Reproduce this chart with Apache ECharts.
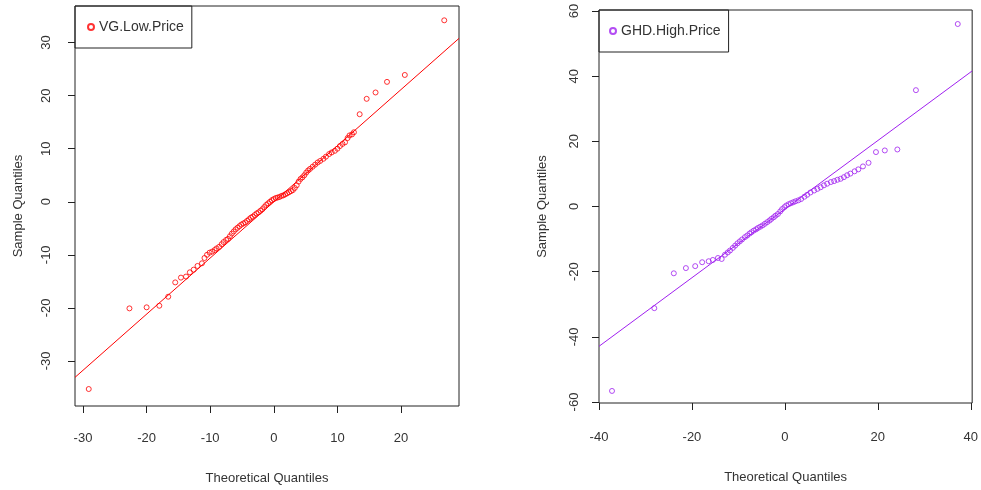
<!DOCTYPE html>
<html>
<head>
<meta charset="utf-8">
<script src="https://cdn.jsdelivr.net/npm/echarts@6/dist/echarts.min.js"></script>
<style>
  html, body { margin: 0; padding: 0; background: #fff; }
  #qq { width: 981px; height: 490px; }
</style>
</head>
<body>
<div id="qq"></div>
<script>
// left panel: VG.Low.Price  [theoretical, sample]
const vgLowPoints = [
    [-29.1, -35.3], [-22.7, -20.1], [-20.0, -19.9], [-18.0, -19.6], [-16.6, -17.9],
    [-15.5, -15.2], [-14.6, -14.3], [-13.8, -14.1], [-13.2, -13.3], [-12.6, -12.8],
    [-12.0, -12.1], [-11.3, -11.6], [-10.9, -10.6], [-10.5, -10.0], [-10.1, -9.6],
    [-9.7, -9.4], [-9.3, -9.1], [-9.0, -8.8], [-8.6, -8.5], [-8.2, -8.0],
    [-7.9, -7.6], [-7.5, -7.2], [-7.2, -7.0], [-6.9, -6.5], [-6.6, -6.0],
    [-6.3, -5.6], [-6.0, -5.2], [-5.7, -4.9], [-5.4, -4.6], [-5.1, -4.3],
    [-4.8, -4.1], [-4.5, -3.9], [-4.2, -3.6], [-3.9, -3.3], [-3.6, -3.0],
    [-3.3, -2.8], [-3.0, -2.5], [-2.7, -2.2], [-2.4, -2.0], [-2.1, -1.7],
    [-1.8, -1.4], [-1.5, -1.0], [-1.2, -0.6], [-0.9, -0.3], [-0.6, 0.0],
    [-0.3, 0.3], [0.0, 0.5], [0.3, 0.7], [0.6, 0.8], [0.9, 0.9],
    [1.2, 1.1], [1.5, 1.2], [1.8, 1.4], [2.1, 1.6], [2.4, 1.8],
    [2.7, 2.0], [3.0, 2.2], [3.3, 2.6], [3.6, 3.1], [3.9, 3.8],
    [4.2, 4.3], [4.5, 4.6], [4.8, 5.0], [5.1, 5.5], [5.4, 5.9],
    [5.7, 6.2], [6.1, 6.6], [6.5, 7.0], [6.9, 7.4], [7.3, 7.7],
    [7.8, 8.1], [8.2, 8.5], [8.7, 9.0], [9.1, 9.3], [9.6, 9.6],
    [10.0, 10.0], [10.4, 10.5], [10.8, 10.9], [11.2, 11.2], [11.6, 12.0],
    [11.9, 12.5], [12.3, 12.7], [12.6, 13.1], [13.5, 16.5], [14.6, 19.4],
    [16.0, 20.6], [17.8, 22.6], [20.6, 23.9], [26.8, 34.2]
];
const vgLowLine = [[-31.26, -33.1], [29.12, 30.8]];

// right panel: GHD.High.Price
const ghdHighPoints = [
    [-37.2, -56.6], [-28.1, -31.2], [-23.9, -20.5], [-21.3, -18.9], [-19.3, -18.3],
    [-17.8, -17.1], [-16.4, -16.8], [-15.5, -16.4], [-14.4, -15.8], [-13.6, -16.1],
    [-12.9, -14.8], [-12.3, -14.1], [-11.8, -13.5], [-11.2, -12.7], [-10.7, -12.0],
    [-10.2, -11.3], [-9.7, -10.7], [-9.2, -10.1], [-8.6, -9.4], [-8.1, -8.9],
    [-7.6, -8.3], [-7.2, -7.9], [-6.7, -7.4], [-6.2, -7.0], [-5.8, -6.6],
    [-5.3, -6.2], [-4.8, -5.8], [-4.3, -5.3], [-3.8, -4.8], [-3.3, -4.3],
    [-2.9, -3.8], [-2.4, -3.3], [-2.0, -2.8], [-1.5, -2.3], [-1.0, -1.5],
    [-0.6, -0.8], [-0.1, -0.2], [0.3, 0.3], [0.8, 0.7], [1.3, 1.0],
    [1.8, 1.3], [2.3, 1.6], [2.9, 1.9], [3.5, 2.3], [4.2, 3.0],
    [4.8, 3.6], [5.5, 4.3], [6.3, 4.9], [7.0, 5.4], [7.7, 5.9],
    [8.4, 6.5], [9.1, 7.0], [9.9, 7.5], [10.6, 7.8], [11.3, 8.2],
    [12.0, 8.5], [12.7, 9.0], [13.4, 9.6], [14.1, 10.1], [15.0, 10.8],
    [15.8, 11.4], [16.8, 12.3], [18.0, 13.4], [19.6, 16.7], [21.5, 17.2],
    [24.2, 17.5], [28.2, 35.7], [37.2, 56.0]
];
const ghdHighLine = [[-40.0, -42.9], [40.3, 41.6]];

const leftXTicks = [-30, -20, -10, 0, 10, 20];
const leftYTicks = [-30, -20, -10, 0, 10, 20, 30];
const rightXTicks = [-40, -20, 0, 20, 40];
const rightYTicks = [-60, -40, -20, 0, 20, 40, 60];

const FONT = 'Liberation Sans, Arial, sans-serif';
const RED = '#ff0000';
const PURPLE = '#a020f0';

function xAxisFor(gridIndex, min, max, ticks, margin, nameGap) {
    return {
        type: 'value', gridIndex: gridIndex, min: min, max: max,
        name: 'Theoretical Quantiles', nameLocation: 'middle', nameGap: nameGap,
        nameTextStyle: {fontFamily: FONT, fontSize: 13, color: '#333'},
        axisLine: {show: false, onZero: false},
        axisTick: {show: true, length: 7, customValues: ticks, lineStyle: {color: '#222'}},
        axisLabel: {customValues: ticks, margin: margin, fontFamily: FONT, fontSize: 13, color: '#333'},
        splitLine: {show: false}
    };
}

function yAxisFor(gridIndex, min, max, ticks, margin) {
    return {
        type: 'value', gridIndex: gridIndex, min: min, max: max,
        name: 'Sample Quantiles', nameLocation: 'middle', nameGap: 50,
        nameTextStyle: {fontFamily: FONT, fontSize: 13, color: '#333'},
        axisLine: {show: false, onZero: false},
        axisTick: {show: true, length: 7, customValues: ticks, lineStyle: {color: '#222'}},
        axisLabel: {customValues: ticks, rotate: 90, margin: margin, fontFamily: FONT, fontSize: 13, color: '#333'},
        splitLine: {show: false}
    };
}

function legendFor(name, left, top, pad) {
    return {
        data: [name], left: left, top: top, orient: 'vertical',
        borderColor: '#222', borderWidth: 1, padding: pad,
        itemWidth: 6, itemHeight: 6, selectedMode: false,
        textStyle: {fontFamily: FONT, fontSize: 14, color: '#333'}
    };
}

function scatterFor(name, idx, data, color) {
    return {
        name: name, type: 'scatter', xAxisIndex: idx, yAxisIndex: idx,
        data: data, symbol: 'circle', symbolSize: 5,
        itemStyle: {color: 'rgba(255,255,255,0)', borderColor: color, borderWidth: 1}
    };
}

function lineFor(idx, data, color) {
    return {
        type: 'line', xAxisIndex: idx, yAxisIndex: idx, data: data,
        showSymbol: false, silent: true,
        lineStyle: {color: color, width: 1}
    };
}

let chart = echarts.init(document.getElementById('qq'));

const option = {
    animation: false,
    backgroundColor: '#fff',
    grid: [
        {left: 75, top: 6, width: 384, height: 401, show: true, borderColor: '#222', borderWidth: 1},
        {left: 599, top: 10, width: 377, height: 393, show: true, borderColor: '#222', borderWidth: 1}
    ],
    legend: [
        legendFor('VG.Low.Price', 75, 6, [14, 8, 14, 12]),
        legendFor('GHD.High.Price', 599, 10, [14, 8, 14, 10])
    ],
    xAxis: [
        xAxisFor(0, -31.26, 29.12, leftXTicks, 26, 66),
        xAxisFor(1, -40.0, 40.3, rightXTicks, 28, 68)
    ],
    yAxis: [
        yAxisFor(0, -38.5, 36.9, leftYTicks, 22),
        yAxisFor(1, -60.3, 60.3, rightYTicks, 18)
    ],
    series: [
        lineFor(0, vgLowLine, RED),
        scatterFor('VG.Low.Price', 0, vgLowPoints, RED),
        lineFor(1, ghdHighLine, PURPLE),
        scatterFor('GHD.High.Price', 1, ghdHighPoints, PURPLE)
    ]
};

chart.setOption(option);

window.addEventListener('resize', function () {
    chart.resize();
});
</script>
</body>
</html>
